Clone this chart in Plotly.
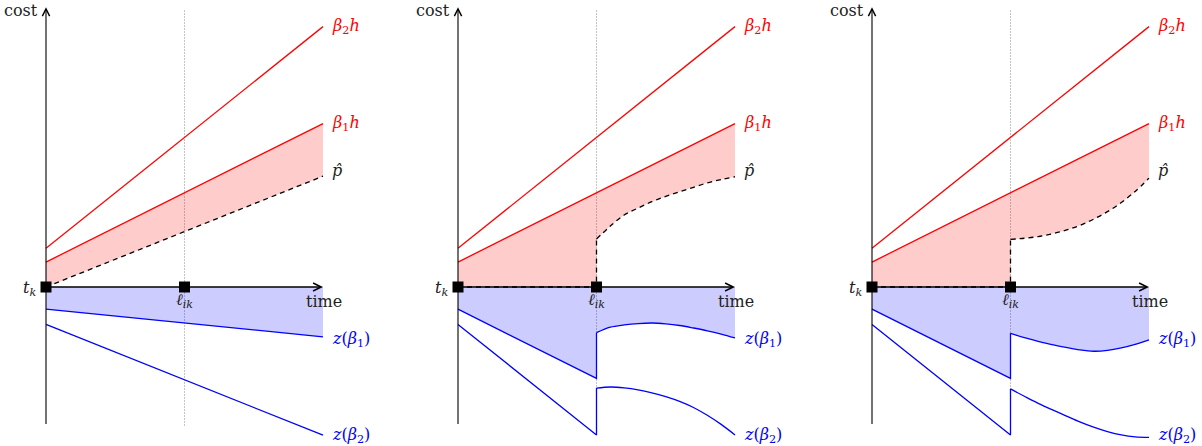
import plotly.graph_objects as go

# ---------------- data ----------------
ELL = 5.0                      # time of l_ik
T_LINE = [0.0, 10.0]           # start / end of the horizon
T_BEFORE = [0.0, 5.0, 5.0]     # up to l_ik, then jump
T_AFTER = [5.0, 5.5, 6.0, 6.5, 7.0, 7.5, 8.0, 8.5, 9.0, 9.5, 10.0]

BETA2H = [1.4, 9.4]
BETA1H = [0.9, 5.9]
BETA1H_AT_ELL = 3.4

# panel 1 (all linear)
P1_PHAT = [0.0, 4.0]
P1_Z1 = [-0.8, -1.8]
P1_Z2 = [-1.35, -5.35]

# panels 2 and 3: values before l_ik
Z1_BEFORE = [-0.8, -3.3]
Z2_BEFORE = [-1.35, -5.34]
PHAT_BEFORE = [0.0, 0.0]

# panel 2: values after l_ik
P2_PHAT_AFTER = [1.73, 2.2, 2.6, 2.85, 3.08, 3.27, 3.44, 3.6, 3.76, 3.88, 3.98]
P2_Z1_AFTER = [-1.65, -1.45, -1.37, -1.32, -1.30, -1.33, -1.39, -1.48, -1.58, -1.70, -1.84]
P2_Z2_AFTER = [-3.65, -3.61, -3.64, -3.71, -3.82, -3.96, -4.13, -4.35, -4.63, -4.96, -5.34]

# panel 3: values after l_ik
P3_PHAT_AFTER = [1.72, 1.76, 1.82, 1.92, 2.05, 2.22, 2.45, 2.72, 3.05, 3.45, 3.93]
P3_Z1_AFTER = [-1.67, -1.83, -1.96, -2.08, -2.18, -2.27, -2.32, -2.29, -2.20, -2.07, -1.91]
P3_Z2_AFTER = [-3.68, -3.945, -4.20, -4.43, -4.65, -4.87, -5.06, -5.22, -5.34, -5.41, -5.43]

AXIS_Y = [-5.0, 10.1]
DOTTED_Y = [-5.0, 10.0]

LABEL_Y = {"b2": 9.4, "b1": 5.9, "p": 4.2, "z1": -1.88, "z2": -5.36}

# ---------------- styles ----------------
RED = "#ff0000"
BLUE = "#0000ff"
RED_FILL = "rgba(255,0,0,0.2)"
BLUE_FILL = "rgba(0,0,255,0.2)"
FONT = "DejaVu Serif"
FS = 16
LW = 1.3
DASH = "5px,4px"

fig = go.Figure()
annotations = []
shapes = []


def line(xa, x, y, color, dash=None, shape="linear", width=LW):
    fig.add_trace(go.Scatter(x=x, y=y, mode="lines", xaxis=xa, yaxis="y",
                             line=dict(color=color, width=width, dash=dash, shape=shape),
                             hoverinfo="skip", showlegend=False))


def poly(xa, x, y, color):
    fig.add_trace(go.Scatter(x=x, y=y, mode="lines", fill="toself", fillcolor=color,
                             xaxis=xa, yaxis="y", line=dict(width=0),
                             hoverinfo="skip", showlegend=False))


def band(xa, xl, yl, xu, yu, color, shape_l="linear", shape_u="linear"):
    fig.add_trace(go.Scatter(x=xl, y=yl, mode="lines", xaxis=xa, yaxis="y",
                             line=dict(width=0, shape=shape_l),
                             hoverinfo="skip", showlegend=False))
    fig.add_trace(go.Scatter(x=xu, y=yu, mode="lines", xaxis=xa, yaxis="y", fill="tonexty",
                             fillcolor=color, line=dict(width=0, shape=shape_u),
                             hoverinfo="skip", showlegend=False))


def text(xa, x, y, s, color="#222222", xanchor="left", yanchor="middle"):
    annotations.append(dict(x=x, y=y, xref=xa, yref="y", text=s, showarrow=False,
                            xanchor=xanchor, yanchor=yanchor,
                            font=dict(family=FONT, size=FS, color=color)))


def decorations(xa):
    ref = xa
    shapes.append(dict(type="line", xref=ref, yref="y", x0=ELL, x1=ELL,
                       y0=DOTTED_Y[0], y1=DOTTED_Y[1], layer="below",
                       line=dict(color="#888888", width=1, dash="1px,2px")))
    # axes
    annotations.append(dict(x=T_LINE[0], y=AXIS_Y[1], ax=T_LINE[0], ay=AXIS_Y[0],
                            xref=ref, yref="y", axref=ref, ayref="y", text="",
                            showarrow=True, arrowhead=5, arrowsize=1.3, arrowwidth=1.1,
                            arrowcolor="black", standoff=0, startstandoff=0))
    annotations.append(dict(x=T_LINE[1], y=0, ax=T_LINE[0], ay=0,
                            xref=ref, yref="y", axref=ref, ayref="y", text="",
                            showarrow=True, arrowhead=5, arrowsize=1, arrowwidth=1.6,
                            arrowcolor="black", standoff=0, startstandoff=0))
    # markers
    fig.add_trace(go.Scatter(x=[T_LINE[0], ELL], y=[0, 0], mode="markers", xaxis=xa, yaxis="y",
                             marker=dict(symbol="square", size=11, color="black"),
                             hoverinfo="skip", showlegend=False))
    # labels
    lx = T_LINE[1] + 0.25
    text(xa, -0.22, 10.0, "cost", xanchor="right")
    text(xa, T_LINE[1] + 0.04, -0.54, "time", xanchor="center")
    text(xa, ELL, -0.5, "<i>ℓ</i><sub><i>ik</i></sub>", xanchor="center")
    text(xa, -0.28, -0.07, "<i>t</i><sub><i>k</i></sub>", xanchor="right")
    text(xa, lx, LABEL_Y["b2"], "<i>β</i><sub>2</sub><i>h</i>", color=RED)
    text(xa, lx, LABEL_Y["b1"], "<i>β</i><sub>1</sub><i>h</i>", color=RED)
    text(xa, lx, LABEL_Y["p"], "<i>p\u0302</i>")
    text(xa, lx, LABEL_Y["z1"], "<i>z</i>(<i>β</i><sub>1</sub>)", color=BLUE)
    text(xa, lx, LABEL_Y["z2"], "<i>z</i>(<i>β</i><sub>2</sub>)", color=BLUE)


# ---------------- panel 1 ----------------
xa = "x"
poly(xa, [T_LINE[0], T_LINE[1], T_LINE[1], T_LINE[0]],
     [BETA1H[0], BETA1H[1], P1_PHAT[1], P1_PHAT[0]], RED_FILL)
poly(xa, [T_LINE[0], T_LINE[1], T_LINE[1], T_LINE[0]],
     [0, 0, P1_Z1[1], P1_Z1[0]], BLUE_FILL)
line(xa, T_LINE, BETA2H, RED)
line(xa, T_LINE, BETA1H, RED)
line(xa, T_LINE, P1_PHAT, "black", dash=DASH)
line(xa, T_LINE, P1_Z1, BLUE)
line(xa, T_LINE, P1_Z2, BLUE)
decorations(xa)


# ---------------- panels 2 and 3 ----------------
def jump_panel(xa, phat_after, z1_after, z2_after):
    poly(xa, [T_LINE[0], T_LINE[0], ELL, ELL],
         [PHAT_BEFORE[0], BETA1H[0], BETA1H_AT_ELL, PHAT_BEFORE[1]], RED_FILL)
    band(xa, T_AFTER, phat_after, [ELL, T_LINE[1]], [BETA1H_AT_ELL, BETA1H[1]],
         RED_FILL, shape_l="spline")
    poly(xa, [T_LINE[0], T_LINE[0], ELL, ELL],
         [0, Z1_BEFORE[0], Z1_BEFORE[1], 0], BLUE_FILL)
    band(xa, [ELL, T_LINE[1]], [0, 0], T_AFTER, z1_after, BLUE_FILL, shape_u="spline")

    line(xa, T_LINE, BETA2H, RED)
    line(xa, T_LINE, BETA1H, RED)
    line(xa, T_BEFORE, PHAT_BEFORE + [phat_after[0]], "black", dash=DASH)
    line(xa, T_AFTER, phat_after, "black", dash=DASH, shape="spline")
    line(xa, T_BEFORE, Z1_BEFORE + [z1_after[0]], BLUE)
    line(xa, T_AFTER, z1_after, BLUE, shape="spline")
    line(xa, T_BEFORE, Z2_BEFORE + [z2_after[0]], BLUE)
    line(xa, T_AFTER, z2_after, BLUE, shape="spline")
    decorations(xa)


jump_panel("x2", P2_PHAT_AFTER, P2_Z1_AFTER, P2_Z2_AFTER)
jump_panel("x3", P3_PHAT_AFTER, P3_Z1_AFTER, P3_Z2_AFTER)

# ---------------- layout ----------------
W, H = 1202, 446
PX = 27.7  # pixels per data unit


def xax(left_px, origin_px, right_px):
    return dict(domain=[left_px / W, right_px / W],
                range=[-(origin_px - left_px) / PX, (right_px - origin_px) / PX],
                visible=False, fixedrange=True, anchor="y")


fig.update_layout(
    width=W, height=H,
    margin=dict(l=0, r=0, t=0, b=0),
    font=dict(family=FONT, size=FS, color="#222222"),
    paper_bgcolor="white", plot_bgcolor="white",
    xaxis=xax(0, 46, 400),
    xaxis2=xax(410, 458, 810),
    xaxis3=xax(820, 872, 1202),
    yaxis=dict(domain=[0, 1], range=[(287 - H) / PX, 287 / PX], visible=False, fixedrange=True),
    annotations=annotations,
    shapes=shapes,
    showlegend=False,
)

fig.write_html("out.html", config={"displayModeBar": False},
               post_script="document.body.style.margin='0';document.body.style.overflow='hidden';")
